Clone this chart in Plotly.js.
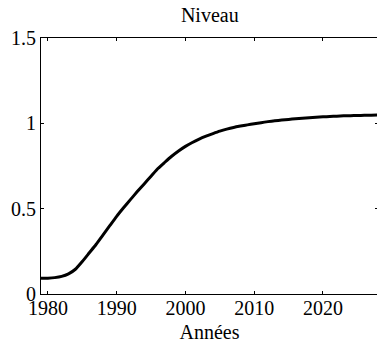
<!DOCTYPE html>
<html>
<head>
<meta charset="utf-8">
<script src="https://cdn.plot.ly/plotly-3.0.1.min.js"></script>
<style>
html,body{margin:0;padding:0;overflow:hidden;background:#fff;width:377px;height:343px;}
#chart{width:378px;height:343px;}
</style>
</head>
<body>
<div id="chart"></div>
<script>
const years = [1979,1980,1981,1982,1983,1984,1985,1986,1987,1988,1989,1990,1991,1992,1993,1994,1995,1996,1997,1998,1999,2000,2001,2002,2003,2004,2005,2006,2007,2008,2009,2010,2011,2012,2013,2014,2015,2016,2017,2018,2019,2020,2021,2022,2023,2024,2025,2026,2027,2028];
const niveau = [0.092,0.093,0.096,0.103,0.118,0.145,0.19,0.24,0.29,0.345,0.40,0.455,0.505,0.553,0.60,0.645,0.69,0.735,0.772,0.807,0.838,0.865,0.888,0.908,0.925,0.94,0.954,0.966,0.976,0.984,0.991,0.998,1.004,1.01,1.015,1.019,1.023,1.027,1.030,1.033,1.036,1.038,1.040,1.042,1.044,1.045,1.046,1.047,1.048,1.049];
const xTicks = [1980,1990,2000,2010,2020];
const xTickText = ['1980','1990','2000','2010','2020'];
const yTicks = [0,0.5,1,1.5];
const yTickText = ['0','0.5','1','1.5'];

const fam = 'Liberation Serif';
const font = {family:fam, size:20, color:'#000'};

Plotly.newPlot('chart', [{
  x: years, y: niveau, type:'scatter', mode:'lines',
  line:{color:'#000', width:3, shape:'spline', smoothing:0.6},
  hoverinfo:'skip'
}], {
  width:378, height:343,
  margin:{l:41, r:0, t:38, b:49, pad:0},
  paper_bgcolor:'#fff', plot_bgcolor:'#fff',
  font: font,
  showlegend:false,
  title:{text:'Niveau', font:{family:fam,size:20,color:'#000'}, x:0.555, xanchor:'center', y:0.935, yanchor:'bottom', yref:'container'},
  xaxis:{
    range:[1979,2028], tickvals:xTicks, ticktext:xTickText,
    ticks:'inside', ticklen:3, tickwidth:1, tickcolor:'#000',
    showline:true, linecolor:'#000', linewidth:1, mirror:'ticks',
    showgrid:false, zeroline:false,
    tickfont:font, ticklabelstandoff:-4,
    title:{text:'Années', font:font, standoff:7}
  },
  yaxis:{
    range:[0,1.5], tickvals:yTicks, ticktext:yTickText,
    ticks:'inside', ticklen:3, tickwidth:1, tickcolor:'#000',
    showline:true, linecolor:'#000', linewidth:1, mirror:'ticks',
    showgrid:false, zeroline:false,
    tickfont:font
  }
}, {staticPlot:true, displayModeBar:false});
</script>
</body>
</html>
